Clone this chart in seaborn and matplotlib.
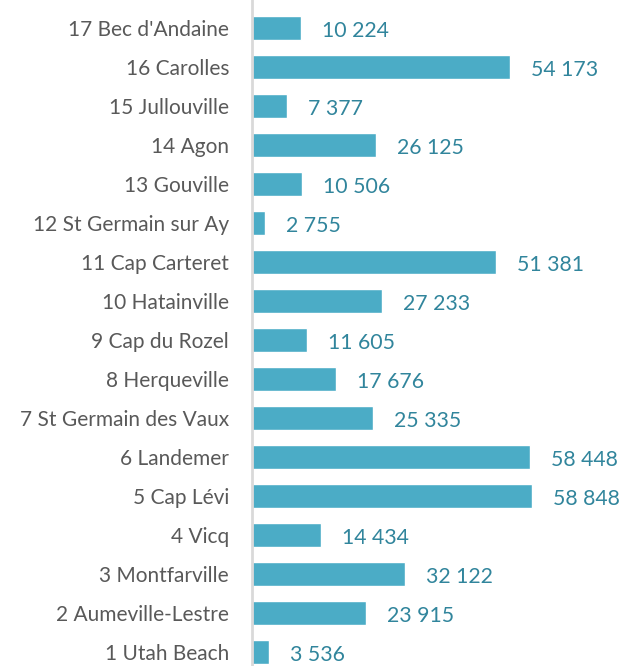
import matplotlib
matplotlib.use("Agg")
import matplotlib.pyplot as plt
import seaborn as sns
import pandas as pd

sites = ["17 Bec d'Andaine", "16 Carolles", "15 Jullouville", "14 Agon", "13 Gouville",
         "12 St Germain sur Ay", "11 Cap Carteret", "10 Hatainville", "9 Cap du Rozel",
         "8 Herqueville", "7 St Germain des Vaux", "6 Landemer", "5 Cap Lévi", "4 Vicq",
         "3 Montfarville", "2 Aumeville-Lestre", "1 Utah Beach"]
values = [10224, 54173, 7377, 26125, 10506, 2755, 51381, 27233, 11605, 17676,
          25335, 58448, 58848, 14434, 32122, 23915, 3536]

df = pd.DataFrame({"site": sites, "value": values})

sns.set_theme(style="white")
plt.rcParams['font.family'] = ['Lato', 'DejaVu Sans']

fig = plt.figure(figsize=(6.23, 6.66), dpi=100)
ax = fig.add_axes([252/623, 0, (623-252)/623, 1])

sns.barplot(data=df, y="site", x="value", orient="h", color="#4BACC6",
            saturation=1, width=0.62, ax=ax, order=sites)

xmax = 58848 / 280 * 371
ax.set_xlim(0, xmax)
ax.set_ylim(16 + 14/39, -28/39)

for i, v in enumerate(values):
    ax.text(v + xmax * 21/371, i + 0.07, f"{v:,}".replace(",", " "), va="center", ha="left",
            fontsize=15.3, color="#31859C")

ax.set_xlabel("")
ax.set_ylabel("")
ax.set_xticks([])
ax.tick_params(axis="y", length=0, pad=16.5, labelsize=15, labelcolor="#595959")
for s in ["top", "right", "bottom"]:
    ax.spines[s].set_visible(False)
ax.spines["left"].set_color("#D9D9D9")
ax.spines["left"].set_linewidth(2)

fig.savefig("out.png", dpi=100)
